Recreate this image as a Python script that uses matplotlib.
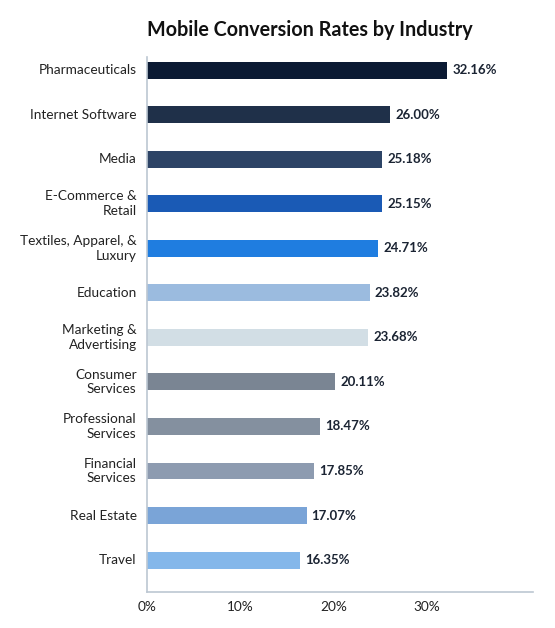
import matplotlib
matplotlib.use("Agg")
import matplotlib.pyplot as plt
from matplotlib.ticker import FuncFormatter

industries = [
    "Pharmaceuticals",
    "Internet Software",
    "Media",
    "E-Commerce &\nRetail",
    "Textiles, Apparel, &\nLuxury",
    "Education",
    "Marketing &\nAdvertising",
    "Consumer\nServices",
    "Professional\nServices",
    "Financial\nServices",
    "Real Estate",
    "Travel",
]
rates = [32.16, 26.00, 25.18, 25.15, 24.71, 23.82, 23.68, 20.11, 18.47, 17.85, 17.07, 16.35]
colors = [
    "#0b1a33", "#1f3049", "#2d4466", "#1a5ab5", "#1f7de0", "#9bbbdf",
    "#d2dee5", "#7a8593", "#84909f", "#8d9bb0", "#7aa4d7", "#84b7ea",
]
x_ticks = [0, 10, 20, 30]

plt.rcParams["font.family"] = ["Lato", "DejaVu Sans"]

fig = plt.figure(figsize=(5.55, 6.28), dpi=100)
ax = fig.add_axes([0.265, 0.057, 0.695, 0.852])

y = list(range(len(industries)))
ax.barh(y, rates, height=0.38, color=colors)

# value labels next to each bar
for yi, r in zip(y, rates):
    ax.text(r + 0.55, yi, f"{r:.2f}%", va="center", ha="left",
            fontsize=9.5, fontweight="bold", color="#1b2433")

# category labels, right aligned (also the second line)
ax.set_yticks(y)
ax.set_yticklabels([])
for yi, name in zip(y, industries):
    ax.text(-0.027, yi, name, transform=ax.get_yaxis_transform(),
            ha="right", va="center", multialignment="right",
            fontsize=9.8, color="#222222", linespacing=1.25)

ax.set_ylim(len(industries) - 1 + 0.72, -0.29)
ax.set_xlim(0, 41.3)
ax.set_xticks(x_ticks)
ax.xaxis.set_major_formatter(FuncFormatter(lambda v, p: f"{v:.0f}%"))
ax.tick_params(axis="x", length=0, labelsize=9.8, labelcolor="#222222", pad=6)
ax.tick_params(axis="y", length=0)

for s in ["top", "right"]:
    ax.spines[s].set_visible(False)
for s in ["left", "bottom"]:
    ax.spines[s].set_color("#bcc7d2")
    ax.spines[s].set_linewidth(1.2)

fig.text(0.558, 0.952, "Mobile Conversion Rates by Industry", ha="center", va="center",
         fontsize=14.2, fontweight="bold", color="#111111")

fig.savefig("out.png", dpi=100)
